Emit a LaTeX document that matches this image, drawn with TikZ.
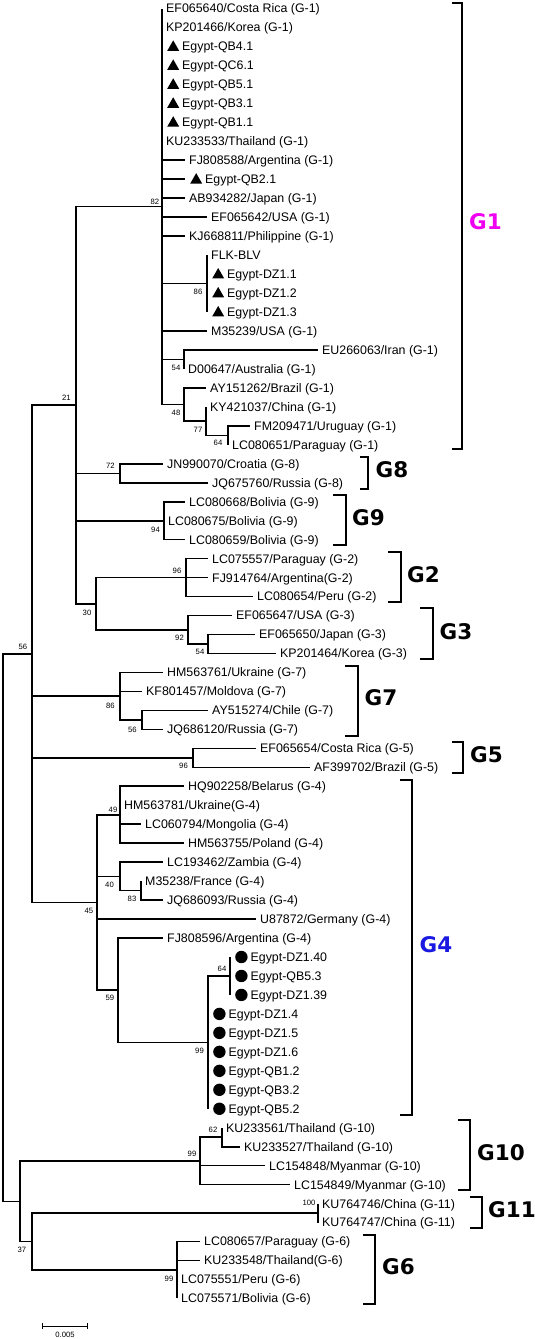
\documentclass[tikz,border=0pt]{standalone}
\usepackage{fontspec}
\setmainfont{Liberation Sans}
\newfontfamily\grpfam{DejaVu Sans}
\definecolor{gonepink}{RGB}{240,0,240}
\definecolor{gfourblue}{RGB}{25,25,225}
% y of a leaf row
\newcommand{\ry}[1]{8.5+18.97*(#1-1)}
\newcommand{\egtri}{\kern1pt\tikz[baseline=0pt]\fill (0pt,0pt) -- (12pt,0pt) -- (6pt,10.5pt) -- cycle;\kern3pt}
\newcommand{\egdot}{\kern1pt\tikz[baseline=0pt]\fill (6.2pt,4.4pt) circle (6.2pt);\kern3pt}
\tikzset{
  leaf/.style={anchor=west, inner xsep=4pt, inner ysep=0pt, text height=8.8pt, text depth=0pt, font=\fontsize{12.4}{14}\selectfont},
  boot/.style={inner sep=0pt, font=\fontsize{7.7}{9}\selectfont},
  branch/.style={line width=1.6pt},
  brk/.style={line width=1.5pt},
  grp/.style={inner sep=0pt, font=\grpfam\bfseries\fontsize{21.5}{24}\selectfont},
}
\begin{document}
\begin{tikzpicture}[x=1pt, y=-1pt]
    \useasboundingbox (0,0) rectangle (535,1339);
    % inner nodes
    \coordinate (root) at (3,927.5);
    \coordinate (n56) at (32,653.8);
    \coordinate (n21) at (76,405.1);
    \coordinate (n82) at (162,206.5);
    \coordinate (n86a) at (207,283.6);
    \coordinate (n54a) at (184,359.4);
    \coordinate (n48) at (184,404.5);
    \coordinate (n77) at (206,421.1);
    \coordinate (n64a) at (228,435.3);
    \coordinate (n72) at (120,473.3);
    \coordinate (n94) at (164,520.7);
    \coordinate (n30) at (96,603.7);
    \coordinate (n96a) at (186,577.6);
    \coordinate (n92) at (188,629.8);
    \coordinate (n54b) at (208,644.0);
    \coordinate (n86b) at (120,696.2);
    \coordinate (n56b) at (142,719.9);
    \coordinate (n96b) at (193,757.8);
    \coordinate (n45) at (97,902.4);
    \coordinate (n49) at (120,814.7);
    \coordinate (n40) at (120,876.4);
    \coordinate (n83) at (141,890.6);
    \coordinate (n59) at (118,990.2);
    \coordinate (n99a) at (208,1042.4);
    \coordinate (n64b) at (230,976.0);
    \coordinate (n20) at (20,1201.3);
    \coordinate (n99b) at (200,1160.9);
    \coordinate (n62) at (222,1137.2);
    \coordinate (n37) at (32,1241.6);
    \coordinate (n100) at (318,1213.1);
    \coordinate (n99c) at (177,1270.0);

    % leaves, G1
    \node[leaf] (l1) at (162,{\ry{1}}) {EF065640/Costa Rica (G-1)};
    \node[leaf] (l2) at (162,{\ry{2}}) {KP201466/Korea (G-1)};
    \node[leaf] (l3) at (162,{\ry{3}}) {\egtri Egypt-QB4.1};
    \node[leaf] (l4) at (162,{\ry{4}}) {\egtri Egypt-QC6.1};
    \node[leaf] (l5) at (162,{\ry{5}}) {\egtri Egypt-QB5.1};
    \node[leaf] (l6) at (162,{\ry{6}}) {\egtri Egypt-QB3.1};
    \node[leaf] (l7) at (162,{\ry{7}}) {\egtri Egypt-QB1.1};
    \node[leaf] (l8) at (162,{\ry{8}}) {KU233533/Thailand (G-1)};
    \node[leaf] (l9) at (185,{\ry{9}}) {FJ808588/Argentina (G-1)};
    \node[leaf] (l10) at (185,{\ry{10}}) {\egtri Egypt-QB2.1};
    \node[leaf] (l11) at (185,{\ry{11}}) {AB934282/Japan (G-1)};
    \node[leaf] (l12) at (207,{\ry{12}}) {EF065642/USA (G-1)};
    \node[leaf] (l13) at (185,{\ry{13}}) {KJ668811/Philippine (G-1)};
    \node[leaf] (l14) at (207,{\ry{14}}) {FLK-BLV};
    \node[leaf] (l15) at (207,{\ry{15}}) {\egtri Egypt-DZ1.1};
    \node[leaf] (l16) at (207,{\ry{16}}) {\egtri Egypt-DZ1.2};
    \node[leaf] (l17) at (207,{\ry{17}}) {\egtri Egypt-DZ1.3};
    \node[leaf] (l18) at (207,{\ry{18}}) {M35239/USA (G-1)};
    \node[leaf] (l19) at (318,{\ry{19}}) {EU266063/Iran (G-1)};
    \node[leaf] (l20) at (184,{\ry{20}}) {D00647/Australia (G-1)};
    \node[leaf] (l21) at (206,{\ry{21}}) {AY151262/Brazil (G-1)};
    \node[leaf] (l22) at (206,{\ry{22}}) {KY421037/China (G-1)};
    \node[leaf] (l23) at (250,{\ry{23}}) {FM209471/Uruguay (G-1)};
    \node[leaf] (l24) at (228,{\ry{24}}) {LC080651/Paraguay (G-1)};
    % G8, G9, G2, G3
    \node[leaf] (l25) at (163,{\ry{25}}) {JN990070/Croatia (G-8)};
    \node[leaf] (l26) at (208,{\ry{26}}) {JQ675760/Russia (G-8)};
    \node[leaf] (l27) at (185,{\ry{27}}) {LC080668/Bolivia (G-9)};
    \node[leaf] (l28) at (164,{\ry{28}}) {LC080675/Bolivia (G-9)};
    \node[leaf] (l29) at (185,{\ry{29}}) {LC080659/Bolivia (G-9)};
    \node[leaf] (l30) at (208,{\ry{30}}) {LC075557/Paraguay (G-2)};
    \node[leaf] (l31) at (208,{\ry{31}}) {FJ914764/Argentina(G-2)};
    \node[leaf] (l32) at (253,{\ry{32}}) {LC080654/Peru (G-2)};
    \node[leaf] (l33) at (232,{\ry{33}}) {EF065647/USA (G-3)};
    \node[leaf] (l34) at (255,{\ry{34}}) {EF065650/Japan (G-3)};
    \node[leaf] (l35) at (276,{\ry{35}}) {KP201464/Korea (G-3)};
    % G7, G5
    \node[leaf] (l36) at (163,{\ry{36}}) {HM563761/Ukraine (G-7)};
    \node[leaf] (l37) at (142,{\ry{37}}) {KF801457/Moldova (G-7)};
    \node[leaf] (l38) at (208,{\ry{38}}) {AY515274/Chile (G-7)};
    \node[leaf] (l39) at (163,{\ry{39}}) {JQ686120/Russia (G-7)};
    \node[leaf] (l40) at (256,{\ry{40}}) {EF065654/Costa Rica (G-5)};
    \node[leaf] (l41) at (310,{\ry{41}}) {AF399702/Brazil (G-5)};
    % G4
    \node[leaf] (l42) at (184,{\ry{42}}) {HQ902258/Belarus (G-4)};
    \node[leaf] (l43) at (120,{\ry{43}}) {HM563781/Ukraine(G-4)};
    \node[leaf] (l44) at (141,{\ry{44}}) {LC060794/Mongolia (G-4)};
    \node[leaf] (l45) at (184,{\ry{45}}) {HM563755/Poland (G-4)};
    \node[leaf] (l46) at (163,{\ry{46}}) {LC193462/Zambia (G-4)};
    \node[leaf] (l47) at (141,{\ry{47}}) {M35238/France (G-4)};
    \node[leaf] (l48) at (163,{\ry{48}}) {JQ686093/Russia (G-4)};
    \node[leaf] (l49) at (256,{\ry{49}}) {U87872/Germany (G-4)};
    \node[leaf] (l50) at (163,{\ry{50}}) {FJ808596/Argentina (G-4)};
    \node[leaf] (l51) at (230,{\ry{51}}) {\egdot Egypt-DZ1.40};
    \node[leaf] (l52) at (230,{\ry{52}}) {\egdot Egypt-QB5.3};
    \node[leaf] (l53) at (230,{\ry{53}}) {\egdot Egypt-DZ1.39};
    \node[leaf] (l54) at (208,{\ry{54}}) {\egdot Egypt-DZ1.4};
    \node[leaf] (l55) at (208,{\ry{55}}) {\egdot Egypt-DZ1.5};
    \node[leaf] (l56) at (208,{\ry{56}}) {\egdot Egypt-DZ1.6};
    \node[leaf] (l57) at (208,{\ry{57}}) {\egdot Egypt-QB1.2};
    \node[leaf] (l58) at (208,{\ry{58}}) {\egdot Egypt-QB3.2};
    \node[leaf] (l59) at (208,{\ry{59}}) {\egdot Egypt-QB5.2};
    % G10, G11, G6
    \node[leaf] (l60) at (222,{\ry{60}}) {KU233561/Thailand (G-10)};
    \node[leaf] (l61) at (240,{\ry{61}}) {KU233527/Thailand (G-10)};
    \node[leaf] (l62) at (265,{\ry{62}}) {LC154848/Myanmar (G-10)};
    \node[leaf] (l63) at (290,{\ry{63}}) {LC154849/Myanmar (G-10)};
    \node[leaf] (l64) at (318,{\ry{64}}) {KU764746/China (G-11)};
    \node[leaf] (l65) at (318,{\ry{65}}) {KU764747/China (G-11)};
    \node[leaf] (l66) at (200,{\ry{66}}) {LC080657/Paraguay (G-6)};
    \node[leaf] (l67) at (200,{\ry{67}}) {KU233548/Thailand(G-6)};
    \node[leaf] (l68) at (177,{\ry{68}}) {LC075551/Peru (G-6)};
    \node[leaf] (l69) at (177,{\ry{69}}) {LC075571/Bolivia (G-6)};

    % branches
    \draw[branch] (root) |- (n56);
    \draw[branch] (root) |- (n20);
    \foreach \c in {n21,n86b,n96b,n45}
        \draw[branch] (n56) |- (\c);
    \foreach \c in {n82,n72,n94,n30}
        \draw[branch] (n21) |- (\c);
    \foreach \i in {1,...,13}
        \draw[branch] (n82) |- (l\i.west);
    \foreach \c in {n86a,l18.west,n54a,n48}
        \draw[branch] (n82) |- (\c);
    \foreach \i in {14,...,17}
        \draw[branch] (n86a) |- (l\i.west);
    \draw[branch] (n54a) |- (l19.west);
    \draw[branch] (n54a) |- (l20.west);
    \draw[branch] (n48) |- (l21.west);
    \draw[branch] (n48) |- (n77);
    \draw[branch] (n77) |- (l22.west);
    \draw[branch] (n77) |- (n64a);
    \draw[branch] (n64a) |- (l23.west);
    \draw[branch] (n64a) |- (l24.west);
    \draw[branch] (n72) |- (l25.west);
    \draw[branch] (n72) |- (l26.west);
    \foreach \i in {27,28,29}
        \draw[branch] (n94) |- (l\i.west);
    \draw[branch] (n30) |- (n96a);
    \draw[branch] (n30) |- (n92);
    \foreach \i in {30,31,32}
        \draw[branch] (n96a) |- (l\i.west);
    \draw[branch] (n92) |- (l33.west);
    \draw[branch] (n92) |- (n54b);
    \draw[branch] (n54b) |- (l34.west);
    \draw[branch] (n54b) |- (l35.west);
    \draw[branch] (n86b) |- (l36.west);
    \draw[branch] (n86b) |- (l37.west);
    \draw[branch] (n86b) |- (n56b);
    \draw[branch] (n56b) |- (l38.west);
    \draw[branch] (n56b) |- (l39.west);
    \draw[branch] (n96b) |- (l40.west);
    \draw[branch] (n96b) |- (l41.west);
    \foreach \c in {n49,n40,l49.west,n59}
        \draw[branch] (n45) |- (\c);
    \foreach \i in {42,...,45}
        \draw[branch] (n49) |- (l\i.west);
    \draw[branch] (n40) |- (l46.west);
    \draw[branch] (n40) |- (n83);
    \draw[branch] (n83) |- (l47.west);
    \draw[branch] (n83) |- (l48.west);
    \draw[branch] (n59) |- (l50.west);
    \draw[branch] (n59) |- (n99a);
    \draw[branch] (n99a) |- (n64b);
    \foreach \i in {54,...,59}
        \draw[branch] (n99a) |- (l\i.west);
    \foreach \i in {51,52,53}
        \draw[branch] (n64b) |- (l\i.west);
    \draw[branch] (n20) |- (n99b);
    \draw[branch] (n20) |- (n37);
    \foreach \c in {n62,l62.west,l63.west}
        \draw[branch] (n99b) |- (\c);
    \draw[branch] (n62) |- (l60.west);
    \draw[branch] (n62) |- (l61.west);
    \draw[branch] (n37) |- (n100);
    \draw[branch] (n37) |- (n99c);
    \draw[branch] (n100) |- (l64.west);
    \draw[branch] (n100) |- (l65.west);
    \foreach \i in {66,...,69}
        \draw[branch] (n99c) |- (l\i.west);

    % bootstrap values
    \node[boot] (b82) at (155,202) {82};
    \node[boot] (b21) at (66.5,398) {21};
    \node[boot] (b86a) at (198,292) {86};
    \node[boot] (b54a) at (176,368) {54};
    \node[boot] (b48) at (176,413) {48};
    \node[boot] (b77) at (198,430) {77};
    \node[boot] (b64a) at (218,443) {64};
    \node[boot] (b72) at (110.5,466) {72};
    \node[boot] (b94) at (155.5,530) {94};
    \node[boot] (b96a) at (177,570.5) {96};
    \node[boot] (b30) at (87,613) {30};
    \node[boot] (b92) at (179.5,638) {92};
    \node[boot] (b54b) at (200,652) {54};
    \node[boot] (b56) at (23,647) {56};
    \node[boot] (b86b) at (110.5,705.5) {86};
    \node[boot] (b56b) at (132.5,730) {56};
    \node[boot] (b96b) at (183.5,765.5) {96};
    \node[boot] (b49) at (113,809.5) {49};
    \node[boot] (b40) at (109.5,884.5) {40};
    \node[boot] (b83) at (132,899) {83};
    \node[boot] (b45) at (89,911) {45};
    \node[boot] (b64b) at (222,969) {64};
    \node[boot] (b59) at (110,998) {59};
    \node[boot] (b99a) at (199.5,1051) {99};
    \node[boot] (b62) at (213,1129.5) {62};
    \node[boot] (b99b) at (192,1154) {99};
    \node[boot] (b37) at (22,1249.5) {37};
    \node[boot] (b99c) at (169,1279) {99};
    \node[boot] (b100) at (309,1203) {100};

    % genotype brackets
    \draw[brk] (452,3) -- (462,3) -- (462,449) -- (452,449);
    \node[grp, text=gonepink] (g1) at (485.5,222) {G1};
    \draw[brk] (360,457) -- (368,457) -- (368,489) -- (360,489);
    \node[grp] (g8) at (392,470) {G8};
    \draw[brk] (333,495) -- (346,495) -- (346,545) -- (333,545);
    \node[grp] (g9) at (368.5,517.5) {G9};
    \draw[brk] (388,552) -- (401,552) -- (401,602) -- (388,602);
    \node[grp] (g2) at (423.5,575) {G2};
    \draw[brk] (420,608) -- (433,608) -- (433,659) -- (420,659);
    \node[grp] (g3) at (456,632) {G3};
    \draw[brk] (345,666) -- (358,666) -- (358,736) -- (345,736);
    \node[grp] (g7) at (381,698) {G7};
    \draw[brk] (452,742) -- (463,742) -- (463,773) -- (452,773);
    \node[grp] (g5) at (486.5,755) {G5};
    \draw[brk] (400,780) -- (412,780) -- (412,1115) -- (400,1115);
    \node[grp, text=gfourblue] (g4) at (436,945) {G4};
    \draw[brk] (458,1120) -- (470,1120) -- (470,1190) -- (458,1190);
    \node[grp] (g10) at (501,1153) {G10};
    \draw[brk] (470,1197) -- (482,1197) -- (482,1228) -- (470,1228);
    \node[grp, anchor=west] (g11) at (488,1210) {G11};
    \draw[brk] (363,1235) -- (375,1235) -- (375,1304) -- (363,1304);
    \node[grp] (g6) at (398.5,1267) {G6};

    % scale bar
    \coordinate (sb1) at (42,1326);
    \coordinate (sb2) at (87,1326);
    \draw (sb1) -- (sb2);
    \draw ([yshift=3pt]sb1) -- ([yshift=-3pt]sb1);
    \draw ([yshift=3pt]sb2) -- ([yshift=-3pt]sb2);
    \node[boot] (sblabel) at (65,1335) {0.005};
\end{tikzpicture}
\end{document}
